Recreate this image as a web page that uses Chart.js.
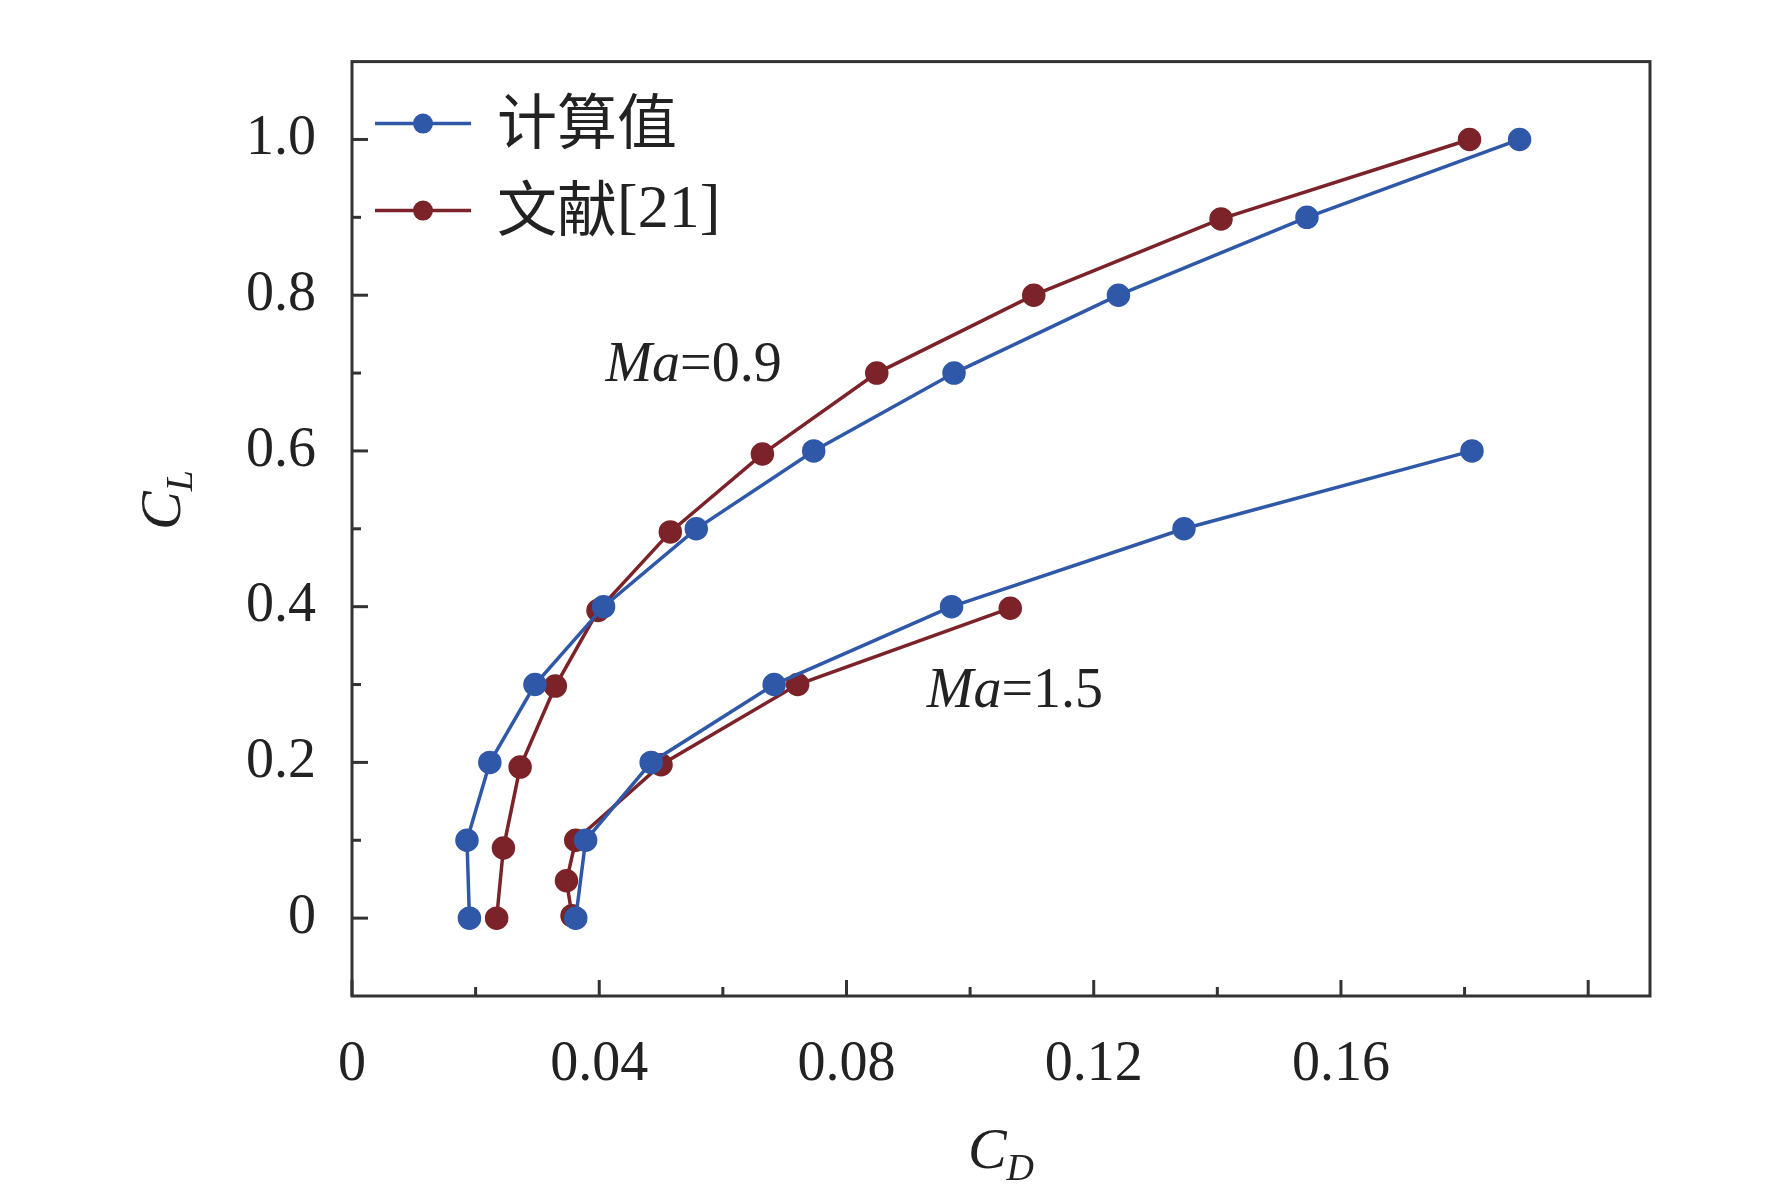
<!DOCTYPE html>
<html><head><meta charset="utf-8">
<script src="https://cdn.jsdelivr.net/npm/chart.js@4/dist/chart.umd.min.js"></script>
<style>html,body{margin:0;background:#fff}#wrap{width:1772px;height:1199px}</style>
</head><body><div id="wrap"><canvas id="c"></canvas></div>
<script>
const calcCD09 = [0.0190, 0.0186, 0.0223, 0.0296, 0.0407, 0.0557, 0.0747, 0.0974, 0.1240, 0.1545, 0.1889];
const calcCL09 = [0, 0.1, 0.2, 0.3, 0.4, 0.5, 0.6, 0.7, 0.8, 0.9, 1.0];
const refCD09 = [0.0234, 0.0245, 0.0272, 0.0329, 0.0398, 0.0515, 0.0664, 0.0849, 0.1103, 0.1406, 0.1808];
const refCL09 = [0, 0.09, 0.194, 0.298, 0.395, 0.496, 0.596, 0.70, 0.80, 0.898, 1.0];
const calcCD15 = [0.0362, 0.0378, 0.0484, 0.0683, 0.0970, 0.1346, 0.1812];
const calcCL15 = [0, 0.1, 0.2, 0.3, 0.4, 0.5, 0.6];
const refCD15 = [0.0356, 0.0347, 0.0362, 0.0500, 0.0721, 0.1065];
const refCL15 = [0.003, 0.048, 0.1, 0.197, 0.30, 0.398];
const seriesNames = ['计算值', '文献[21]'];
const blue = '#2f58a8', red = '#7c2229';
const FONT = '"Liberation Serif", Tinos, "Times New Roman", serif';
const CJK = '"Noto Sans CJK SC", serif';

const pts = (xs, ys) => xs.map((x, i) => ({ x, y: ys[i] }));
const ds = (label, data, color, legend) => ({
    label, data, borderColor: color, backgroundColor: color, borderWidth: 3.5,
    pointRadius: 10, pointHoverRadius: 10, showLine: true, tension: 0, legend
});

const decor = {
    id: 'decor',
    afterDraw(chart) {
        const ctx = chart.ctx, a = chart.chartArea, xs = chart.scales.x, ys = chart.scales.y;
        ctx.save();
        ctx.strokeStyle = '#333'; ctx.lineWidth = 3;
        ctx.strokeRect(a.left, a.top, a.right - a.left, a.bottom - a.top);
        // inward ticks
        for (let i = 0; i <= 10; i++) {
            const px = xs.getPixelForValue(i * 0.02), len = i % 2 === 0 ? 16 : 9;
            ctx.beginPath(); ctx.moveTo(px, a.bottom); ctx.lineTo(px, a.bottom - len); ctx.stroke();
        }
        for (let i = 0; i <= 10; i++) {
            const py = ys.getPixelForValue(i * 0.1), len = i % 2 === 0 ? 16 : 9;
            ctx.beginPath(); ctx.moveTo(a.left, py); ctx.lineTo(a.left + len, py); ctx.stroke();
        }
        // legend
        chart.data.datasets.forEach(d => {
            if (d.legend === undefined) return;
            const y = a.top + 62 + d.legend * 87, x0 = a.left + 23;
            ctx.strokeStyle = d.borderColor; ctx.fillStyle = d.borderColor; ctx.lineWidth = 3.5;
            ctx.beginPath(); ctx.moveTo(x0, y); ctx.lineTo(x0 + 96, y); ctx.stroke();
            ctx.beginPath(); ctx.arc(x0 + 48, y, 10, 0, Math.PI * 2); ctx.fill();
            ctx.fillStyle = '#222'; ctx.textBaseline = 'middle'; ctx.textAlign = 'left';
            const m = d.label.match(/^([^\[]*)(.*)$/);
            ctx.font = '60px ' + CJK; ctx.fillText(m[1], x0 + 122, y - 2);
            const w = ctx.measureText(m[1]).width;
            ctx.font = '62px ' + FONT; ctx.fillText(m[2], x0 + 122 + w, y);
        });
        // annotations
        const ann = (txt, x, y) => {
            let px = xs.getPixelForValue(x), py = ys.getPixelForValue(y);
            ctx.fillStyle = '#222'; ctx.textBaseline = 'middle'; ctx.textAlign = 'left';
            ctx.font = 'italic 56px ' + FONT; ctx.fillText('Ma', px, py);
            px += ctx.measureText('Ma').width;
            ctx.font = '56px ' + FONT; ctx.fillText(txt, px, py);
        };
        ann('=0.9', 0.041, 0.709);
        ann('=1.5', 0.093, 0.29);
        // axis titles
        const sub = (main, s, x, y) => {
            ctx.font = 'italic 58px ' + FONT; ctx.textAlign = 'left'; ctx.textBaseline = 'alphabetic';
            const w = ctx.measureText(main).width;
            ctx.font = 'italic 38px ' + FONT; const w2 = ctx.measureText(s).width;
            const st = x - (w + w2) / 2;
            ctx.font = 'italic 58px ' + FONT; ctx.fillText(main, st, y);
            ctx.font = 'italic 38px ' + FONT; ctx.fillText(s, st + w, y + 12);
        };
        sub('C', 'D', (a.left + a.right) / 2, 1168);
        ctx.save(); ctx.translate(180, 500); ctx.rotate(-Math.PI / 2);
        sub('C', 'L', 0, 0); ctx.restore();
        ctx.restore();
    }
};

const keepTicks = (lo, hi) => s => {
    s.ticks = s.ticks.filter(t => t.value >= lo - 1e-9 && t.value <= hi + 1e-9);
};

new Chart(document.getElementById('c'), {
    type: 'scatter',
    data: {
        datasets: [
            ds(seriesNames[0], pts(calcCD09, calcCL09), blue, 0),
            ds(seriesNames[1], pts(refCD09, refCL09), red, 1),
            ds(seriesNames[0], pts(calcCD15, calcCL15), blue),
            ds(seriesNames[1], pts(refCD15, refCL15), red)
        ]
    },
    options: {
        responsive: true, maintainAspectRatio: false, animation: false,
        layout: { padding: { top: 2, right: 122, left: 0, bottom: 0 } },
        plugins: { legend: { display: false }, tooltip: { enabled: false } },
        scales: {
            x: {
                type: 'linear', min: 0, max: 0.21,
                grid: { display: false }, border: { display: false },
                afterBuildTicks: keepTicks(0, 0.2),
                afterFit: s => { s.height = 203; },
                ticks: {
                    stepSize: 0.02, color: '#222', padding: 28, maxRotation: 0, autoSkip: false,
                    font: { family: FONT, size: 56 },
                    callback: v => {
                        const k = Math.round(v / 0.02);
                        if (Math.abs(v - k * 0.02) > 1e-6 || k % 2) return '';
                        return k === 0 ? '0' : (k * 0.02).toFixed(2);
                    }
                }
            },
            y: {
                type: 'linear', min: -0.1, max: 1.1,
                grid: { display: false }, border: { display: false },
                afterBuildTicks: keepTicks(0, 1.0),
                afterFit: s => { s.width = 352; },
                ticks: {
                    stepSize: 0.1, color: '#222', padding: 28, autoSkip: false,
                    font: { family: FONT, size: 56 },
                    callback: v => {
                        const k = Math.round(v * 10);
                        if (k < 0 || k > 10 || k % 2) return '';
                        return k === 0 ? '0' : (k / 10).toFixed(1);
                    }
                }
            }
        }
    },
    plugins: [decor]
});
</script></body></html>
